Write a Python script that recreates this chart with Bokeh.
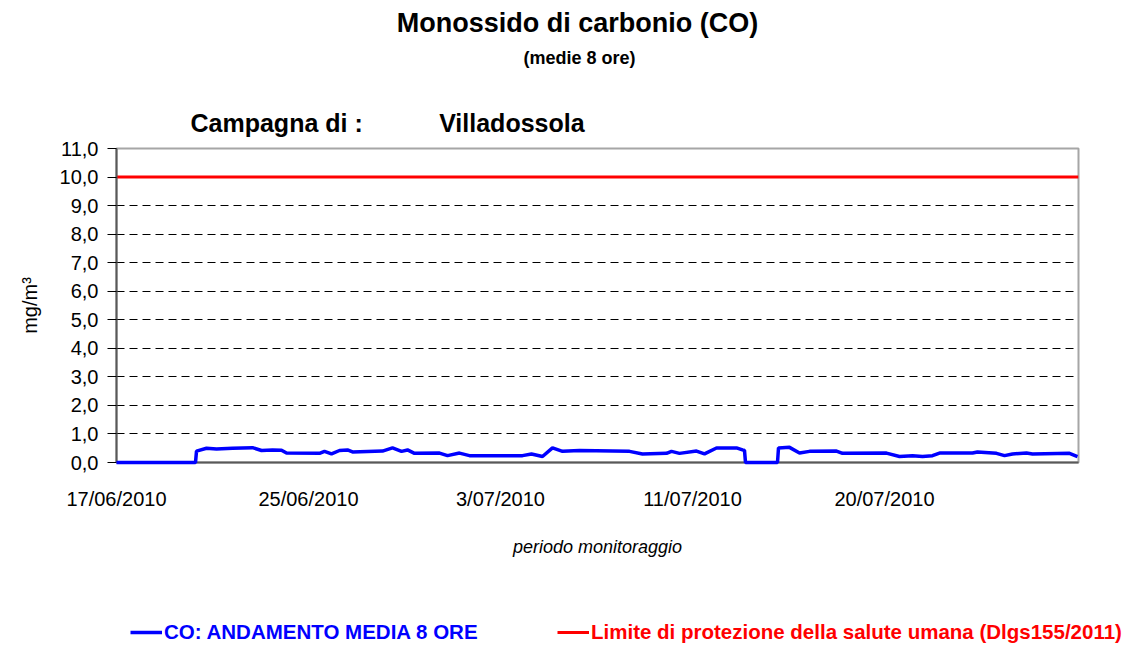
from bokeh.plotting import figure
from bokeh.layouts import column
from bokeh.models import (Range1d, FixedTicker, CustomJSTickFormatter, Title,
                          Label, Legend, LegendItem)
from bokeh.embed import file_html
from bokeh.resources import INLINE

# ---- data (hour index from 17/06/2010 00:00, CO 8h mean in mg/m3) ----
hours = [0, 79, 80, 90, 100, 116, 136, 145, 156, 165, 170, 203, 208, 215, 223,
         231, 236, 266, 276, 285, 291, 298, 323, 331, 343, 353, 406, 415, 426,
         436, 446, 463, 513, 526, 550, 555, 563, 580, 588, 600, 620, 626, 628,
         629, 661, 662, 673, 683, 693, 720, 726, 770, 783, 796, 806, 816, 823,
         856, 861, 880, 888, 896, 910, 916, 953, 961]
co_8h = [0.0, 0.0, 0.40, 0.50, 0.47, 0.50, 0.52, 0.42, 0.44, 0.43, 0.33, 0.32,
         0.39, 0.30, 0.42, 0.44, 0.37, 0.40, 0.51, 0.39, 0.44, 0.32, 0.33, 0.24,
         0.33, 0.24, 0.24, 0.30, 0.21, 0.51, 0.39, 0.42, 0.39, 0.30, 0.32, 0.39,
         0.32, 0.40, 0.30, 0.51, 0.51, 0.44, 0.42, 0.0, 0.0, 0.51, 0.53, 0.33,
         0.39, 0.40, 0.32, 0.33, 0.21, 0.24, 0.21, 0.24, 0.33, 0.33, 0.37, 0.32,
         0.24, 0.30, 0.33, 0.30, 0.32, 0.21]
period_hours = [0, 962]
limit_value = [10.0, 10.0]
tick_hours = [0, 192, 384, 576, 768]
tick_labels = ["17/06/2010", "25/06/2010", "3/07/2010", "11/07/2010", "20/07/2010"]
y_ticks = list(range(0, 12))
series_names = ["CO: ANDAMENTO MEDIA 8 ORE",
                "Limite di protezione della salute umana (Dlgs155/2011)"]
series_colors = ["#0000FF", "#FF0000"]

FONT = "Liberation Sans"
W = 1134
H_TOP, H_MAIN, H_LEG = 90, 496, 60


def strip(height):
    f = figure(width=W, height=height, output_backend="svg",
               toolbar_location=None, title=None,
               x_axis_location=None, y_axis_location=None,
               min_border=0, min_border_left=0, min_border_right=0,
               min_border_top=0, min_border_bottom=0,
               x_range=Range1d(0, 1), y_range=Range1d(50, 51))
    f.frame_align = False
    f.outline_line_color = None
    f.grid.visible = False
    f.background_fill_color = "white"
    f.border_fill_color = "white"
    return f


# ---- title strip ----
pt = strip(H_TOP)
pt.add_layout(Label(x=577, y=H_TOP - 22, x_units="screen", y_units="screen",
                    text="Monossido di carbonio (CO)", text_font=FONT,
                    text_font_style="bold", text_font_size="27px",
                    text_color="black", text_align="center",
                    text_baseline="middle"))
pt.add_layout(Label(x=579, y=H_TOP - 57, x_units="screen", y_units="screen",
                    text="(medie 8 ore)", text_font=FONT,
                    text_font_style="bold", text_font_size="18px",
                    text_color="black", text_align="center",
                    text_baseline="middle"))

# ---- main chart ----
p = figure(width=W, height=H_MAIN, output_backend="svg", toolbar_location=None,
           title=None,
           x_range=Range1d(period_hours[0], period_hours[-1]),
           y_range=Range1d(0, 11),
           min_border_left=116, min_border_right=W - 1078,
           min_border_top=148 - H_TOP, min_border_bottom=586 - 462)
p.frame_align = False
p.background_fill_color = "white"
p.border_fill_color = "white"
p.outline_line_color = "#a6a6a6"
p.outline_line_width = 2

p.xgrid.visible = False
p.ygrid.ticker = FixedTicker(ticks=y_ticks[1:-1])
p.ygrid.grid_line_color = "black"
p.ygrid.grid_line_dash = "8 5"
p.ygrid.grid_line_width = 1

ya = p.yaxis[0]
ya.ticker = FixedTicker(ticks=y_ticks)
ya.formatter = CustomJSTickFormatter(code="return tick.toFixed(1).replace('.', ',');")
ya.axis_line_color = "#595959"
ya.axis_line_width = 2
ya.major_tick_line_color = "black"
ya.major_tick_out = 9
ya.major_tick_in = 0
ya.minor_tick_line_color = None
ya.major_label_text_font = FONT
ya.major_label_text_font_size = "20px"
ya.major_label_text_color = "black"
ya.major_label_standoff = 9
ya.axis_label = "mg/m³"
ya.axis_label_text_font = FONT
ya.axis_label_text_font_size = "20px"
ya.axis_label_text_font_style = "normal"
ya.axis_label_text_color = "black"
ya.axis_label_standoff = 16

xa = p.xaxis[0]
xa.ticker = FixedTicker(ticks=tick_hours)
xa.major_label_overrides = {h: t for h, t in zip(tick_hours, tick_labels)}
xa.axis_line_color = "#595959"
xa.axis_line_width = 2
xa.major_tick_line_color = None
xa.major_tick_out = 0
xa.major_tick_in = 0
xa.minor_tick_line_color = None
xa.major_label_text_font = FONT
xa.major_label_text_font_size = "20px"
xa.major_label_text_color = "black"
xa.major_label_standoff = 25
xa.axis_label = "periodo monitoraggio"
xa.axis_label_text_font = FONT
xa.axis_label_text_font_size = "18px"
xa.axis_label_text_font_style = "italic"
xa.axis_label_text_color = "black"
xa.axis_label_standoff = 24

r_lim = p.line(period_hours, limit_value, line_color=series_colors[1], line_width=3)
r_co = p.line(hours, co_8h, line_color=series_colors[0], line_width=3.5, level="overlay")

NB = "\u00a0"
t_camp = Title(text="Campagna di :" + NB * 11 + "Villadossola", align="left",
               offset=74, standoff=23, text_font=FONT, text_font_style="bold",
               text_font_size="25px", text_color="black")
p.add_layout(t_camp, "above")

# ---- legend strip (keys use the series data, kept outside the strip's view) ----
pl = strip(H_LEG)
key_co = pl.line(hours, co_8h, line_color=series_colors[0], line_width=3.5)
key_lim = pl.line(period_hours, limit_value, line_color=series_colors[1], line_width=3)
common = dict(orientation="horizontal", label_text_font=FONT,
              label_text_font_style="bold", label_text_font_size="20.5px",
              glyph_width=32, glyph_height=20, label_height=20, padding=0,
              margin=0, spacing=0, label_standoff=2, border_line_color=None,
              background_fill_alpha=0)
leg1 = Legend(items=[LegendItem(label=series_names[0], renderers=[key_co])],
              location=(130, 2), label_text_color=series_colors[0], **common)
leg2 = Legend(items=[LegendItem(label=series_names[1], renderers=[key_lim])],
              location=(557, 2), label_text_color=series_colors[1], **common)
pl.add_layout(leg1)
pl.add_layout(leg2)

open("out.html", "w").write(file_html(column(pt, p, pl, spacing=0), INLINE))
